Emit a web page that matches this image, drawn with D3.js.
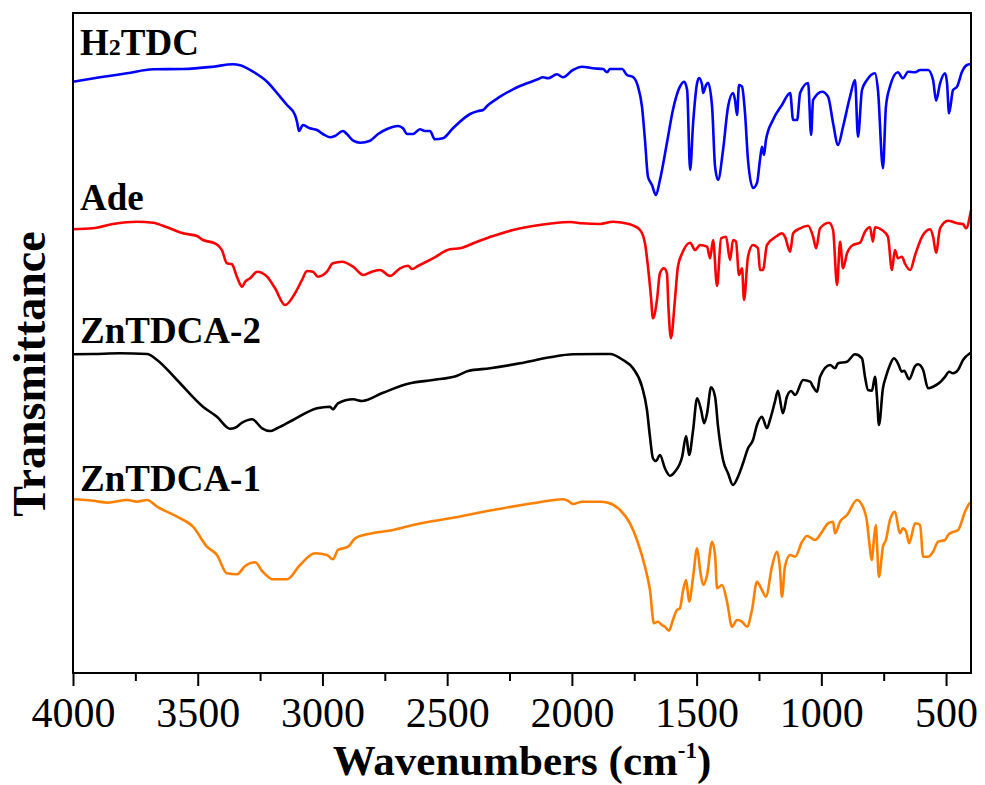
<!DOCTYPE html>
<html>
<head>
<meta charset="utf-8">
<script src="https://cdn.jsdelivr.net/npm/d3@7/dist/d3.min.js"></script>
<style>
  html, body { margin: 0; padding: 0; background: #fff; }
  svg { display: block; }
  text { font-family: "Liberation Serif", "Times New Roman", serif; fill: #000; }
</style>
</head>
<body>
<svg id="chart" width="985" height="785"></svg>
<script>
// FTIR spectra: [wavenumber (cm-1), transmittance (a.u., offset per trace)]
const h2tdc = [
  [4000,59.13],[3892,59.57],[3784,59.97],[3679,60.37],[3559,60.4],[3439,60.63],[3359,60.87],[3330,60.77],
  [3278,60.13],[3222,59.13],[3170,57.63],[3142,56.8],[3110,55.8],[3102,55.13],[3094,54.2],[3078,54.8],
  [3050,54.47],[3022,54.3],[2998,53.9],[2970,53.57],[2950,53.7],[2918,54.2],[2902,53.9],[2877,53.23],
  [2849,53.03],[2809,53.23],[2777,53.9],[2741,54.4],[2697,54.7],[2677,54.47],[2661,53.9],[2637,53.9],
  [2609,54.37],[2589,54.2],[2569,54.2],[2549,53.37],[2517,53.47],[2477,54.47],[2408,55.9],[2376,56.2],
  [2356,56.3],[2340,56.7],[2288,57.63],[2236,58.37],[2180,58.97],[2136,59.37],[2116,59.57],[2096,59.47],
  [2060,59.87],[2036,59.57],[1996,60.3],[1959,60.63],[1915,60.47],[1875,60.4],[1859,60.07],[1847,60.4],
  [1799,60.4],[1779,59.8],[1755,59.6],[1735,58.63],[1719,56.63],[1707,53.3],[1695,49.63],[1679,48.8],
  [1663,47.8],[1647,49.3],[1619,53.0],[1595,56.3],[1567,58.63],[1550,59.13],[1538,58.3],[1526,50.3],
  [1514,55.0],[1498,59.0],[1490,59.5],[1478,58.8],[1474,58.0],[1462,58.8],[1454,59.03],[1438,56.63],
  [1426,50.63],[1414,49.3],[1394,52.3],[1374,56.63],[1354,58.0],[1346,57.3],[1338,55.8],[1330,58.8],
  [1318,58.63],[1306,56.0],[1294,51.3],[1274,48.5],[1258,49.0],[1246,51.3],[1238,52.63],[1230,51.8],
  [1222,53.3],[1194,55.3],[1158,56.8],[1125,58.0],[1113,55.3],[1097,55.3],[1085,58.0],[1053,59.0],
  [1041,53.8],[1033,57.3],[997,58.13],[973,57.63],[953,55.0],[933,52.8],[913,54.63],[885,57.63],
  [865,59.3],[853,53.63],[837,58.3],[817,59.3],[785,59.97],[773,58.3],[753,50.47],[741,56.63],
  [725,58.63],[693,60.07],[673,59.47],[652,60.13],[624,60.07],[604,60.3],[572,60.3],[552,59.3],
  [540,57.23],[524,58.97],[504,59.97],[496,58.97],[488,55.97],[472,58.3],[456,58.63],[436,60.13],
  [416,60.8],[400,60.9]
];

const ade = [
  [4000,44.37],[3920,44.47],[3840,44.9],[3743,45.13],[3679,45.03],[3623,44.57],[3559,43.97],[3503,43.7],
  [3479,43.3],[3431,42.97],[3403,42.3],[3383,40.97],[3363,40.87],[3343,39.63],[3322,38.63],[3310,39.13],
  [3290,39.47],[3262,40.13],[3222,39.63],[3190,38.47],[3150,36.8],[3110,37.97],[3082,39.3],[3062,40.2],
  [3038,40.13],[3018,39.63],[2982,40.13],[2958,40.97],[2922,41.13],[2877,40.63],[2837,39.8],[2801,40.13],
  [2769,40.3],[2729,39.7],[2689,40.47],[2657,40.73],[2641,40.4],[2617,40.7],[2557,41.47],[2489,42.37],
  [2448,42.47],[2380,43.13],[2316,43.7],[2236,44.3],[2156,44.7],[2076,44.97],[2007,45.1],[1959,44.97],
  [1887,44.9],[1835,45.13],[1767,44.87],[1727,44.3],[1707,42.97],[1695,40.63],[1683,37.63],[1675,35.47],
  [1659,37.3],[1647,39.97],[1631,40.47],[1619,39.97],[1613,36.63],[1603,33.47],[1587,37.3],[1575,40.63],
  [1558,41.97],[1526,43.03],[1506,42.3],[1486,42.8],[1458,42.63],[1446,41.47],[1434,43.3],[1418,38.7],
  [1402,43.47],[1382,43.63],[1366,41.3],[1354,43.3],[1342,43.13],[1330,39.8],[1318,40.47],[1310,37.3],
  [1294,41.63],[1274,42.8],[1254,42.47],[1246,40.3],[1234,40.3],[1218,42.8],[1178,43.7],[1158,43.97],
  [1146,43.63],[1125,42.13],[1113,43.97],[1085,44.47],[1053,44.73],[1033,43.63],[1021,42.47],[1005,44.47],
  [969,45.03],[953,44.3],[937,38.8],[925,43.13],[913,40.47],[897,41.97],[873,42.8],[845,43.03],
  [825,44.13],[805,44.57],[793,43.13],[785,44.57],[757,44.3],[733,43.63],[717,40.3],[705,42.3],
  [693,41.47],[677,41.63],[664,40.9],[644,40.3],[624,41.8],[596,43.63],[564,44.37],[552,43.63],
  [540,42.03],[524,44.47],[492,45.23],[456,44.97],[432,44.9],[420,44.47],[400,46.3]
];

const zntdca2 = [
  [4000,31.87],[3920,31.9],[3812,31.97],[3703,31.9],[3663,31.3],[3583,29.3],[3479,26.63],[3423,25.63],
  [3371,24.43],[3350,24.53],[3322,25.03],[3282,25.37],[3242,24.47],[3210,24.2],[3182,24.47],[3118,25.3],
  [3022,26.47],[2970,26.63],[2958,26.37],[2938,26.97],[2877,27.37],[2841,27.2],[2757,28.03],[2649,28.97],
  [2557,29.3],[2460,29.73],[2416,30.2],[2328,30.47],[2208,30.97],[2088,31.57],[1996,31.87],[1887,31.9],
  [1847,31.9],[1795,31.3],[1755,30.47],[1719,28.63],[1699,26.3],[1687,23.63],[1675,21.47],[1663,21.2],
  [1647,21.8],[1627,20.47],[1607,19.73],[1587,20.13],[1558,21.63],[1542,23.7],[1530,21.8],[1514,24.3],
  [1498,27.47],[1482,26.3],[1470,24.97],[1458,25.97],[1442,28.57],[1426,27.63],[1414,24.63],[1394,21.3],
  [1374,19.97],[1354,18.8],[1334,19.63],[1314,20.97],[1294,22.47],[1274,23.3],[1258,24.8],[1238,25.63],
  [1218,24.47],[1206,25.3],[1186,27.13],[1174,28.23],[1154,25.97],[1138,27.63],[1121,28.2],[1105,27.8],
  [1073,29.3],[1045,29.13],[1033,28.63],[1017,28.13],[1005,29.63],[965,30.8],[945,30.47],[933,30.97],
  [897,31.13],[865,31.87],[837,31.47],[825,29.63],[813,28.3],[797,28.23],[785,29.63],[777,27.63],
  [769,24.8],[753,28.47],[741,29.63],[725,30.8],[709,31.47],[693,30.97],[677,30.13],[668,30.23],
  [648,29.37],[624,30.7],[612,30.87],[592,30.3],[572,28.47],[552,28.63],[524,29.07],[504,29.63],
  [488,30.13],[472,29.97],[452,30.3],[432,31.3],[408,31.9],[400,32.0]
];

const zntdca1 = [
  [4000,17.37],[3920,17.23],[3860,17.03],[3784,17.3],[3743,17.13],[3703,17.3],[3663,16.63],[3583,15.63],
  [3519,14.63],[3463,12.63],[3423,11.8],[3383,9.97],[3343,9.87],[3310,10.7],[3270,11.07],[3242,10.2],
  [3198,9.37],[3142,9.37],[3090,10.8],[3030,11.97],[2982,11.8],[2958,11.37],[2938,12.3],[2897,12.63],
  [2869,13.47],[2821,13.87],[2717,14.3],[2637,14.8],[2477,15.53],[2316,16.3],[2156,16.97],[2036,17.37],
  [2016,17.23],[1996,16.9],[1959,17.13],[1887,17.13],[1855,17.03],[1807,16.3],[1767,14.97],[1739,13.3],
  [1707,10.63],[1687,8.3],[1671,4.97],[1655,5.13],[1639,4.8],[1627,4.63],[1611,4.23],[1595,5.3],
  [1579,6.3],[1567,6.47],[1554,8.3],[1542,9.3],[1530,7.13],[1514,9.63],[1498,12.47],[1486,10.3],
  [1474,8.8],[1458,9.8],[1438,13.13],[1426,11.8],[1418,8.47],[1398,8.8],[1378,7.13],[1358,4.63],
  [1338,5.3],[1318,5.13],[1298,4.63],[1278,6.3],[1258,9.13],[1238,8.3],[1222,7.63],[1198,10.63],
  [1178,12.13],[1166,10.47],[1158,7.63],[1146,10.63],[1125,11.8],[1105,11.63],[1077,13.13],[1057,13.7],
  [1025,13.3],[997,14.13],[973,14.97],[953,15.13],[945,13.97],[925,15.13],[897,15.8],[857,17.3],
  [837,16.8],[817,15.13],[809,13.3],[797,11.3],[789,13.47],[781,14.8],[777,12.97],[769,9.63],
  [753,12.63],[741,13.3],[725,15.3],[705,16.13],[685,13.97],[673,14.47],[660,14.13],[648,12.97],
  [624,14.97],[604,14.8],[592,11.63],[572,11.63],[552,12.13],[532,13.13],[504,13.3],[492,13.8],
  [476,14.07],[452,14.3],[424,16.13],[408,16.9],[400,17.1]
];

const seriesNames = ["H2TDC", "Ade", "ZnTDCA-2", "ZnTDCA-1"];
const seriesColors = ["#0000ff", "#ff0000", "#000000", "#ff8000"];
const seriesData = [h2tdc, ade, zntdca2, zntdca1];
// label baselines expressed in the same transmittance units
const labelLevels = [61.8, 46.3, 32.97, 18.22];

const xMajorTicks = [4000, 3500, 3000, 2500, 2000, 1500, 1000, 500];
const xMinorTicks = [3750, 3250, 2750, 2250, 1750, 1250, 750];

const svg = d3.select("#chart");
const margin = { left: 73, top: 13, right: 971, bottom: 673 };

const x = d3.scaleLinear().domain([4000, 400]).range([margin.left, margin.right]);
const y = d3.scaleLinear().domain([0, 66.0]).range([margin.bottom, margin.top]);

// traces
const line = d3.line()
  .x(d => x(d[0]))
  .y(d => y(d[1]))
  .curve(d3.curveMonotoneX);

seriesData.forEach((data, i) => {
  svg.append("path")
    .datum(data)
    .attr("fill", "none")
    .attr("stroke", seriesColors[i])
    .attr("stroke-width", 2.6)
    .attr("stroke-linejoin", "round")
    .attr("d", line);
});

// frame
svg.append("rect")
  .attr("x", margin.left).attr("y", margin.top)
  .attr("width", margin.right - margin.left)
  .attr("height", margin.bottom - margin.top)
  .attr("fill", "none").attr("stroke", "#000").attr("stroke-width", 2);

// bottom axis
const xAxis = d3.axisBottom(x)
  .tickValues(xMajorTicks)
  .tickSize(13)
  .tickPadding(11)
  .tickFormat(d3.format("d"));
const gx = svg.append("g")
  .attr("transform", `translate(0,${margin.bottom})`)
  .call(xAxis);
gx.select(".domain").remove();
gx.selectAll(".tick line").attr("stroke", "#000").attr("stroke-width", 2);
gx.selectAll(".tick text")
  .attr("font-family", "'Liberation Serif', 'Times New Roman', serif")
  .attr("font-size", 42)
  .attr("fill", "#000");

const gxMinor = svg.append("g")
  .attr("transform", `translate(0,${margin.bottom})`)
  .call(d3.axisBottom(x).tickValues(xMinorTicks).tickSize(8).tickFormat(""));
gxMinor.select(".domain").remove();
gxMinor.selectAll(".tick line").attr("stroke", "#000").attr("stroke-width", 2);

// axis titles
const xTitle = svg.append("text")
  .attr("x", (margin.left + margin.right) / 2)
  .attr("y", 775)
  .attr("text-anchor", "middle")
  .attr("font-weight", "bold")
  .attr("font-size", 43);
xTitle.append("tspan").text("Wavenumbers (cm");
xTitle.append("tspan").attr("font-size", 23).attr("dy", -17).text("-1");
xTitle.append("tspan").attr("dy", 17).text(")");

svg.append("text")
  .attr("transform", `translate(45,${(margin.top + margin.bottom) / 2 + 31}) rotate(-90)`)
  .attr("text-anchor", "middle")
  .attr("font-weight", "bold")
  .attr("font-size", 46)
  .text("Transmittance");

// trace labels
seriesNames.forEach((name, i) => {
  const t = svg.append("text")
    .attr("x", 80)
    .attr("y", y(labelLevels[i]))
    .attr("font-weight", "bold")
    .attr("font-size", 37);
  if (name === "H2TDC") {
    t.append("tspan").text("H");
    t.append("tspan").attr("font-size", 24).text("2");
    t.append("tspan").text("TDC");
  } else {
    t.text(name);
  }
});
</script>
</body>
</html>
